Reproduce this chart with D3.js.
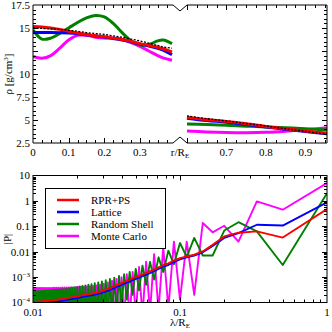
<!DOCTYPE html>
<html><head><meta charset="utf-8">
<script src="https://cdn.jsdelivr.net/npm/d3@7"></script>
<style>body{margin:0;background:#fff}svg{display:block}text{font-family:"Liberation Serif","Times New Roman",serif;font-size:11px;fill:#000}</style>
</head><body><svg id="c" width="332" height="332"></svg>
<script>
// ---------- top panel data: density profile ----------
const rCore = [0,0.025,0.05,0.075,0.1,0.125,0.15,0.175,0.2,0.225,0.25,0.275,0.3,0.325,0.35,0.365,0.39];
const rhoRedCore   = [15.15,15.1,15.0,14.85,14.65,14.45,14.3,14.15,14.05,13.9,13.75,13.55,13.3,13.1,12.9,12.75,12.4];
const rhoBlueCore  = [14.5,14.5,14.5,14.48,14.45,14.38,14.25,14.12,14.0,13.85,13.7,13.5,13.25,13.05,12.8,12.6,12.1];
const rhoGreenCore = [14.8,13.8,13.9,14.4,15.0,15.6,16.1,16.35,16.2,15.5,14.5,13.6,13.15,13.2,13.6,13.7,13.3];
const rhoMagCore   = [11.9,11.7,12.0,12.8,13.7,14.2,14.2,14.0,13.9,13.9,13.75,13.4,13.0,12.5,12.0,11.75,11.5];
const rhoRefCore   = [15.0,14.95,14.9,14.85,14.75,14.65,14.5,14.4,14.3,14.15,14.0,13.8,13.6,13.35,13.1,12.95,12.8];
const rMantle = [0.6,0.65,0.7,0.75,0.8,0.85,0.9,0.955];
const rhoRedMantle   = [5.3,5.05,4.85,4.6,4.3,4.05,3.8,3.55];
const rhoBlueMantle  = [5.2,4.95,4.75,4.5,4.25,4.0,3.75,3.5];
const rhoGreenMantle = [4.57,4.5,4.42,4.33,4.25,4.15,4.05,3.92];
const rhoMagMantle   = [3.8,3.7,3.64,3.62,3.66,3.78,3.95,4.16];
const rhoRefMantle   = [5.45,5.15,4.9,4.62,4.35,4.05,3.75,3.45];
const rhoTicks = [2.5,5,7.5,10,12.5,15,17.5];
const rhoTickLabels = ["2.5","5","7.5","10","","15","17.5"];
const rCoreTicks = [0,0.1,0.2,0.3];
const rMantleTicks = [0.7,0.8,0.9];

// ---------- bottom panel data: |P| vs wavelength (lambda = 1/n) ----------
const harmonic = [1,2,3,4,5,6,7,8,9,10,11,12,13,14,15,16,17,18,19,20,21,22,23,24,25,26,27,28,29,30,31,32,33,34,35,36,37,38,39,40,41,42,43,44,45,46,47,48,49,50,51,52,53,54,55,56,57,58,59,60,61,62,63,64,65,66,67,68,69,70,71,72,73,74,75,76,77,78,79,80,81,82,83,84,85,86,87,88,89,90,91,92,93,94,95,96,97,98,99,100];
const pRed = [0.48,0.036,0.063,0.056,0.040,0.0186,0.0102,0.0076,0.0065,0.0056,
 0.0045,0.0035,0.0030,0.0024,0.0020,0.0017,0.00148,0.00129,0.00112,0.00100,
 8.9e-4,7.9e-4,7.1e-4,6.5e-4,5.8e-4,5.2e-4,4.8e-4,4.4e-4,4.0e-4,3.6e-4,
 3.4e-4,3.2e-4,3.0e-4,2.8e-4,2.7e-4,2.6e-4,2.45e-4,2.4e-4,2.3e-4,2.25e-4,
 2.2e-4,2.15e-4,2.1e-4,2.05e-4,2.0e-4,1.95e-4,1.9e-4,1.85e-4,1.8e-4,1.75e-4,
 1.7e-4,1.68e-4,1.65e-4,1.62e-4,1.6e-4,1.57e-4,1.55e-4,1.52e-4,1.5e-4,1.45e-4,
 1.42e-4,1.4e-4,1.38e-4,1.36e-4,1.34e-4,1.32e-4,1.31e-4,1.3e-4,1.29e-4,1.28e-4,
 1.26e-4,1.25e-4,1.24e-4,1.23e-4,1.22e-4,1.21e-4,1.2e-4,1.19e-4,1.18e-4,1.17e-4,
 1.16e-4,1.15e-4,1.15e-4,1.14e-4,1.13e-4,1.12e-4,1.12e-4,1.11e-4,1.1e-4,1.1e-4,
 1.09e-4,1.09e-4,1.08e-4,1.08e-4,1.07e-4,1.07e-4,1.06e-4,1.05e-4,1.05e-4,1.04e-4];
const pBlue = [0.87,0.107,0.115,0.054,0.035,0.017,0.0095,0.0070,0.0060,0.0050,
 0.0039,0.0030,0.0026,0.0021,0.0017,0.00145,0.00126,0.0011,9.5e-4,8.5e-4,
 7.6e-4,6.7e-4,6.0e-4,5.5e-4,4.9e-4,4.4e-4,4.1e-4,3.7e-4,3.4e-4,3.1e-4,
 2.9e-4,2.7e-4,2.55e-4,2.4e-4,2.3e-4,2.2e-4,2.1e-4,2.05e-4,1.95e-4,1.9e-4,
 1.87e-4,1.83e-4,1.79e-4,1.74e-4,1.7e-4,1.66e-4,1.62e-4,1.57e-4,1.53e-4,1.49e-4,
 1.45e-4,1.43e-4,1.4e-4,1.38e-4,1.36e-4,1.33e-4,1.32e-4,1.29e-4,1.27e-4,1.23e-4,
 1.21e-4,1.19e-4,1.17e-4,1.16e-4,1.14e-4,1.12e-4,1.11e-4,1.1e-4,1.09e-4,1.08e-4,
 1.07e-4,1.06e-4,1.05e-4,1.04e-4,1.03e-4,1.02e-4,1.01e-4,1.0e-4,0.99e-4,0.98e-4,
 0.98e-4,0.97e-4,0.97e-4,0.96e-4,0.96e-4,0.95e-4,0.95e-4,0.94e-4,0.94e-4,0.93e-4,
 0.93e-4,0.92e-4,0.92e-4,0.91e-4,0.91e-4,0.9e-4,0.9e-4,0.89e-4,0.89e-4,0.88e-4];
const pGreen = [2.0,0.0030,0.063,0.145,0.068,0.0071,0.0071,0.035,0.0063,0.022,
 0.0032,0.011,0.0016,0.0060,0.0008,0.0040,0.0005,0.0028,0.0003,0.0021,
 0.0002,0.0016,1.3e-4,0.0013,6e-5,0.0011,4e-5,9.5e-4,3e-5,8.5e-4,
 2e-5,7.6e-4,2e-5,6.8e-4,2e-5,6.2e-4,2e-5,5.7e-4,2e-5,5.3e-4,
 2e-5,5.0e-4,2e-5,4.7e-4,2e-5,4.5e-4,2e-5,4.3e-4,2e-5,4.1e-4,
 2e-5,3.95e-4,2e-5,3.8e-4,2e-5,3.7e-4,2e-5,3.6e-4,2e-5,3.5e-4,
 2e-5,3.4e-4,2e-5,3.35e-4,2e-5,3.3e-4,2e-5,3.25e-4,2e-5,3.2e-4,
 2e-5,3.15e-4,2e-5,3.1e-4,2e-5,3.05e-4,2e-5,3.0e-4,2e-5,2.95e-4,
 2e-5,2.9e-4,2e-5,2.88e-4,2e-5,2.85e-4,2e-5,2.82e-4,2e-5,2.8e-4,
 2e-5,2.78e-4,2e-5,2.76e-4,2e-5,2.74e-4,2e-5,2.72e-4,2e-5,2.7e-4];
const pMagenta = [5.0,0.45,0.95,0.025,0.105,0.058,0.135,2e-4,0.025,1.3e-4,
 0.025,6e-5,0.015,5e-5,0.008,4e-5,0.004,3e-5,0.0025,3e-5,
 0.0016,2e-5,0.0013,2e-5,0.0010,2e-5,8.5e-4,2e-5,7.2e-4,2e-5,
 6.2e-4,2e-5,5.5e-4,2e-5,5.0e-4,2e-5,4.7e-4,2e-5,4.5e-4,2e-5,
 4.4e-4,2e-5,4.3e-4,2e-5,4.2e-4,2e-5,4.2e-4,2e-5,4.1e-4,2e-5,
 4.1e-4,2e-5,4.0e-4,2e-5,4.0e-4,2e-5,3.95e-4,2e-5,3.95e-4,2e-5,
 3.9e-4,2e-5,3.9e-4,2e-5,3.85e-4,2e-5,3.85e-4,2e-5,3.8e-4,2e-5,
 3.8e-4,2e-5,3.8e-4,2e-5,3.75e-4,2e-5,3.75e-4,2e-5,3.75e-4,2e-5,
 3.7e-4,2e-5,3.7e-4,2e-5,3.7e-4,2e-5,3.7e-4,2e-5,3.7e-4,2e-5,
 3.7e-4,2e-5,3.7e-4,2e-5,3.7e-4,2e-5,3.7e-4,2e-5,3.7e-4,2e-5];
const seriesNames = ["RPR+PS","Lattice","Random Shell","Monte Carlo"];
const seriesColors = ["#ff0000","#0000ff","#008000","#ff00ff"];
const pTicks = [1e-4,1e-3,0.01,0.1,1,10];
const lamTicks = [0.01,0.1,1];
const lamTickLabels = ["0.01","0.1","1"];

// ---------- drawing ----------
const svg = d3.select("#c");
const defs = svg.append("defs");

// top panel geometry
const T = {l:33, r:327, t:5, b:143, brk0:173, brk1:187};
const xCore = d3.scaleLinear().domain([0,0.39]).range([T.l,172]);
const xMant = d3.scaleLinear().domain([0.6,0.955]).range([T.brk1,T.r]);
const yRho = d3.scaleLinear().domain([2.5,17.5]).range([T.b,T.t]);

defs.append("clipPath").attr("id","clipTop").append("rect").attr("x",T.l).attr("y",T.t).attr("width",T.r-T.l).attr("height",T.b-T.t);
const gTop = svg.append("g").attr("clip-path","url(#clipTop)");

function drawProfile(xs, rs, vals, color, w, dash){
  const line = d3.line().x((d,i)=>xs(rs[i])).y(d=>yRho(d)).curve(d3.curveCatmullRom);
  gTop.append("path").datum(vals).attr("d",line).attr("fill","none").attr("stroke",color).attr("stroke-width",w).attr("stroke-dasharray",dash||null);
}
const coreSets = [rhoMagCore,rhoGreenCore,rhoBlueCore,rhoRedCore];
const mantSets = [rhoMagMantle,rhoGreenMantle,rhoBlueMantle,rhoRedMantle];
const cOrder = [3,2,1,0];
coreSets.forEach((v,i)=>drawProfile(xCore,rCore,v,seriesColors[cOrder[i]],3));
mantSets.forEach((v,i)=>drawProfile(xMant,rMantle,v,seriesColors[cOrder[i]],3));
drawProfile(xCore,rCore,rhoRefCore,"#000",1.3,"2,1.5");
drawProfile(xMant,rMantle,rhoRefMantle,"#000",1.3,"2,1.5");

// frame with break marks
const frame = svg.append("g").attr("fill","none").attr("stroke","#000").attr("stroke-width",1);
frame.append("path").attr("d",`M${T.l},${T.t}H${T.brk0}L180,${T.t+6}L${T.brk1},${T.t}H${T.r}V${T.b}H${T.brk1}L180,${T.b-6}L${T.brk0},${T.b}H${T.l}Z`);

// top panel ticks
function tickMarks(g, list){
  list.forEach(t=>g.append("line").attr("x1",t[0]).attr("y1",t[1]).attr("x2",t[2]).attr("y2",t[3]).attr("stroke","#000").attr("stroke-width",1));
}
const tk = svg.append("g");
let tl = [];
[[xCore,[0,0.39]],[xMant,[0.6,0.955]]].forEach(([sc,dom])=>{
  for(let v=Math.ceil(dom[0]*40)/40; v<=dom[1]+1e-9; v+=0.025){
    const x = Math.round(sc(v))+0.5;
    if(x<=T.l+0.5||x>=T.r-0.5) continue;
    const major = Math.abs(v*10-Math.round(v*10))<1e-6;
    const len = major?5:3;
    tl.push([x,T.b,x,T.b-len],[x,T.t,x,T.t+len]);
  }
});
for(let v=3; v<17.5; v+=0.5){
  const y = Math.round(yRho(v))+0.5;
  const major = Math.abs(v/2.5-Math.round(v/2.5))<1e-6;
  const len = major?5:3;
  tl.push([T.l,y,T.l+len,y],[T.r,y,T.r-len,y]);
}
tickMarks(tk, tl);

const lblTop = svg.append("g");
rhoTicks.forEach((v,i)=>lblTop.append("text").attr("x",T.l-3).attr("y",yRho(v)).attr("dy","0.35em").attr("text-anchor","end").text(rhoTickLabels[i]));
rCoreTicks.forEach(v=>lblTop.append("text").attr("x",xCore(v)).attr("y",T.b+13).attr("text-anchor","middle").text(String(v)));
rMantleTicks.forEach(v=>lblTop.append("text").attr("x",xMant(v)).attr("y",T.b+13).attr("text-anchor","middle").text(String(v)));
const rl = lblTop.append("text").attr("x",180).attr("y",T.b+13).attr("text-anchor","middle");
rl.append("tspan").text("r/R");
rl.append("tspan").attr("font-size","7px").attr("dy","2").text("E");
const yl = lblTop.append("text").attr("transform",`translate(12,${(T.t+T.b)/2}) rotate(-90)`).attr("text-anchor","middle");
yl.append("tspan").text("ρ [g/cm");
yl.append("tspan").attr("font-size","7px").attr("dy","-4").text("3");
yl.append("tspan").attr("dy","4").text("]");

// bottom panel geometry
const B = {l:33, r:327, t:175.5, b:302.5};
const xLam = d3.scaleLog().domain([0.01,1]).range([B.l,B.r]);
const yP = d3.scaleLog().domain([1e-4,10]).range([B.b,B.t]);
defs.append("clipPath").attr("id","clipBot").append("rect").attr("x",B.l).attr("y",B.t).attr("width",B.r-B.l).attr("height",B.b-B.t);
const gBot = svg.append("g").attr("clip-path","url(#clipBot)");
const lam = harmonic.map(n=>1/n);
const pSets = [pMagenta,pGreen,pBlue,pRed];
pSets.forEach((vals,i)=>{
  const line = d3.line().x((d,j)=>xLam(lam[j])).y(d=>yP(d));
  gBot.append("path").datum(vals).attr("d",line).attr("fill","none").attr("stroke",seriesColors[cOrder[i]]).attr("stroke-width",1.9).attr("stroke-linejoin","round");
});
svg.append("rect").attr("x",B.l).attr("y",B.t).attr("width",B.r-B.l).attr("height",B.b-B.t).attr("fill","none").attr("stroke","#000");

let bl = [];
[0.01,0.1].forEach(dec=>{
  for(let k=1;k<=9;k++){
    const v = dec*k; const x = Math.round(xLam(v))+0.5;
    if(x<=B.l+0.5) continue;
    const len = k===1?5:3;
    bl.push([x,B.b,x,B.b-len],[x,B.t,x,B.t+len]);
  }
});
[1e-4,1e-3,1e-2,1e-1,1].forEach(dec=>{
  for(let k=1;k<=9;k++){
    const v = dec*k; const y = Math.round(yP(v))+0.5;
    if(y>=B.b-0.5) continue;
    const len = k===1?5:3;
    bl.push([B.l,y,B.l+len,y],[B.r,y,B.r-len,y]);
  }
});
tickMarks(svg.append("g"), bl);

const lblBot = svg.append("g");
pTicks.forEach(v=>{
  const t = lblBot.append("text").attr("x",B.l-3).attr("y",yP(v)).attr("dy","0.35em").attr("text-anchor","end");
  if(v<0.005){
    t.append("tspan").text("10");
    t.append("tspan").attr("font-size","7px").attr("dy","-4").text("−"+Math.round(-Math.log10(v)));
  } else t.text(String(v));
});
lamTicks.forEach((v,i)=>lblBot.append("text").attr("x",xLam(v)).attr("y",B.b+13).attr("text-anchor","middle").text(lamTickLabels[i]));
const xl = lblBot.append("text").attr("x",180).attr("y",326).attr("text-anchor","middle");
xl.append("tspan").text("λ/R");
xl.append("tspan").attr("font-size","7px").attr("dy","2").text("E");
lblBot.append("text").attr("transform",`translate(11,${(B.t+B.b)/2}) rotate(-90)`).attr("text-anchor","middle").text("|P|");

// legend
const lg = svg.append("g");
lg.append("rect").attr("x",45.5).attr("y",188.5).attr("width",120).attr("height",60).attr("fill","#fff").attr("stroke","#000");
seriesNames.forEach((name,i)=>{
  const y = 200+i*12;
  lg.append("line").attr("x1",57).attr("x2",79).attr("y1",y).attr("y2",y).attr("stroke",seriesColors[i]).attr("stroke-width",2.5);
  lg.append("text").attr("x",91).attr("y",y).attr("dy","0.35em").text(name);
});
</script></body></html>
